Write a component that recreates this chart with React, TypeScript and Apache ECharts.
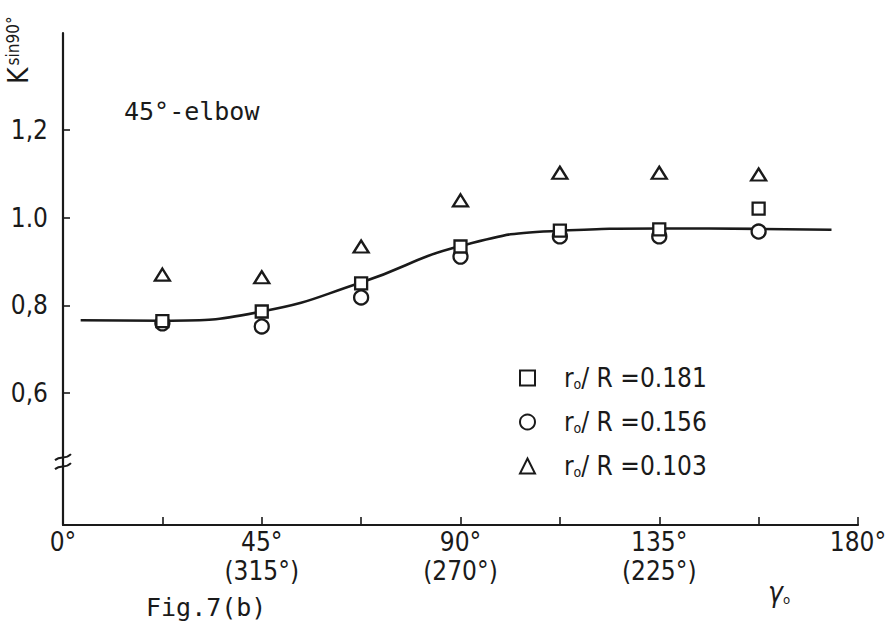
import React, { useEffect, useRef } from "react";
import * as echarts from "echarts";

// data
const angles = [22.5, 45, 67.5, 90, 112.5, 135, 157.5];
const r181 = [0.764, 0.786, 0.85, 0.934, 0.97, 0.973, 1.02];
const r156 = [0.759, 0.752, 0.818, 0.911, 0.957, 0.957, 0.968];
const r103 = [0.87, 0.864, 0.934, 1.039, 1.102, 1.102, 1.098];
const curveAngles = [4, 22.5, 45, 67.5, 90, 112.5, 135, 157.5, 174];
const curveValues = [0.766, 0.765, 0.786, 0.852, 0.935, 0.97, 0.975, 0.974, 0.972];

const seriesNames = ["r0/R=0.181", "r0/R=0.156", "r0/R=0.103"];
const seriesRatios = ["0.181", "0.156", "0.103"];
const xTickValues = [0, 45, 90, 135, 180];
const xTickLabels = ["0°", "45°\n(315°)", "90°\n(270°)", "135°\n(225°)", "180°"];
const xMinorTicks = [22.5, 45, 67.5, 90, 112.5, 135, 157.5, 180];
const yTickValues = [0.6, 0.8, 1.0, 1.2];
const yTickLabels = ["0,6", "0,8", "1.0", "1,2"];

const FONT = "'DejaVu Sans Condensed', 'Liberation Sans Narrow', 'DejaVu Sans', sans-serif";
const MONO = "'DejaVu Sans Mono', 'Liberation Mono', monospace";
const INK = "#1a1a1a";

export default function App() {
  const ref = useRef<HTMLDivElement>(null);
  useEffect(() => {
    if (!ref.current) return;
    const chart = echarts.init(ref.current, null, { renderer: "svg" });
    const pts = (ys: number[]) => angles.map((a, i) => [a, ys[i]]);
    const markerStyle = { color: "#fff", borderColor: INK, borderWidth: 2.3, opacity: 1 };
    chart.setOption({
      animation: false,
      backgroundColor: "#fff",
      grid: { left: 63, right: 32, top: 33, bottom: 104 },
      xAxis: {
        type: "value",
        min: 0,
        max: 180,
        axisLine: { show: true, lineStyle: { color: INK, width: 2.2 } },
        axisTick: { show: true, inside: true, length: 8, customValues: xMinorTicks, lineStyle: { color: INK, width: 1.6 } },
        splitLine: { show: false },
        axisLabel: {
          customValues: xTickValues,
          formatter: (v: number) => xTickLabels[xTickValues.indexOf(v)] ?? "",
          fontFamily: FONT,
          fontSize: 26,
          color: INK,
          lineHeight: 29,
          margin: 2,
        },
      },
      yAxis: {
        type: "value",
        min: 0.3,
        max: 1.42,
        axisLine: { show: true, lineStyle: { color: INK, width: 2.2 } },
        axisTick: { show: true, inside: true, length: 7, customValues: yTickValues, lineStyle: { color: INK, width: 1.6 } },
        splitLine: { show: false },
        axisLabel: {
          customValues: yTickValues,
          formatter: (v: number) => {
            const i = yTickValues.findIndex((t) => Math.abs(t - v) < 1e-6);
            return i >= 0 ? yTickLabels[i] : "";
          },
          fontFamily: FONT,
          fontSize: 26,
          color: INK,
          margin: 15,
        },
      },
      legend: {
        data: seriesNames,
        orient: "vertical",
        left: 514,
        top: 360,
        itemWidth: 15,
        itemHeight: 15,
        itemGap: 18,
        formatter: (name: string) => {
          const i = seriesNames.indexOf(name);
          return "{r|r}{s|o}{r|/ R =" + seriesRatios[i] + "}";
        },
        textStyle: {
          padding: [0, 0, 0, 24],
          rich: {
            r: { fontFamily: FONT, fontSize: 26, color: INK },
            s: { fontFamily: FONT, fontSize: 14, color: INK, verticalAlign: "bottom", padding: [10, 0, 0, 0] },
          },
        },
      },
      series: [
        {
          name: "curve",
          type: "line",
          data: curveAngles.map((a, i) => [a, curveValues[i]]),
          smooth: 0.5,
          showSymbol: false,
          lineStyle: { color: INK, width: 2.6 },
          z: 1,
        },
        {
          name: seriesNames[0],
          type: "scatter",
          symbol: "rect",
          symbolSize: 12,
          data: pts(r181),
          itemStyle: markerStyle,
          z: 4,
        },
        {
          name: seriesNames[1],
          type: "scatter",
          symbol: "circle",
          symbolSize: 14,
          data: pts(r156),
          itemStyle: markerStyle,
          z: 3,
        },
        {
          name: seriesNames[2],
          type: "scatter",
          symbol: "triangle",
          symbolSize: [15, 12],
          data: pts(r103),
          itemStyle: markerStyle,
          z: 3,
        },
      ],
    });
    const [bx, by] = chart.convertToPixel({ gridIndex: 0 }, [0, 0.45]) as number[];
    chart.setOption({
      graphic: [
        {
          type: "text",
          x: 18,
          y: 84,
          rotation: Math.PI / 2,
          style: {
            text: "{k|K}{s|sin90°}",
            rich: {
              k: { fontFamily: FONT, fontSize: 28, fill: INK },
              s: { fontFamily: FONT, fontSize: 17, fill: INK, verticalAlign: "top", padding: [0, 0, 8, 2] },
            },
            verticalAlign: "middle",
          },
        },
        {
          type: "text",
          left: 124,
          top: 99,
          style: { text: "45°-elbow", fontFamily: MONO, fontSize: 25, fill: INK },
        },
        {
          type: "text",
          left: 146,
          top: 595,
          style: { text: "Fig.7(b)", fontFamily: MONO, fontSize: 25, fill: INK },
        },
        {
          type: "text",
          left: 768,
          top: 578,
          style: {
            text: "{g|γ}{s|o}",
            rich: {
              g: { fontFamily: FONT, fontSize: 28, fontStyle: "italic", fill: INK },
              s: { fontFamily: FONT, fontSize: 13, fill: INK, verticalAlign: "bottom" },
            },
          },
        },
        {
          type: "bezierCurve",
          shape: { x1: bx - 8, y1: by + 1, cpx1: bx - 2, cpy1: by - 4, cpx2: bx + 2, cpy2: by + 1, x2: bx + 8, y2: by - 5 },
          style: { stroke: INK, lineWidth: 2, fill: null },
          z: 10,
        },
        {
          type: "bezierCurve",
          shape: { x1: bx - 8, y1: by + 10, cpx1: bx - 2, cpy1: by + 5, cpx2: bx + 2, cpy2: by + 10, x2: bx + 8, y2: by + 4 },
          style: { stroke: INK, lineWidth: 2, fill: null },
          z: 10,
        },
      ],
    });
    return () => chart.dispose();
  }, []);
  return <div ref={ref} style={{ position: "absolute", left: 0, top: 0, width: 890, height: 629 }} />;
}
